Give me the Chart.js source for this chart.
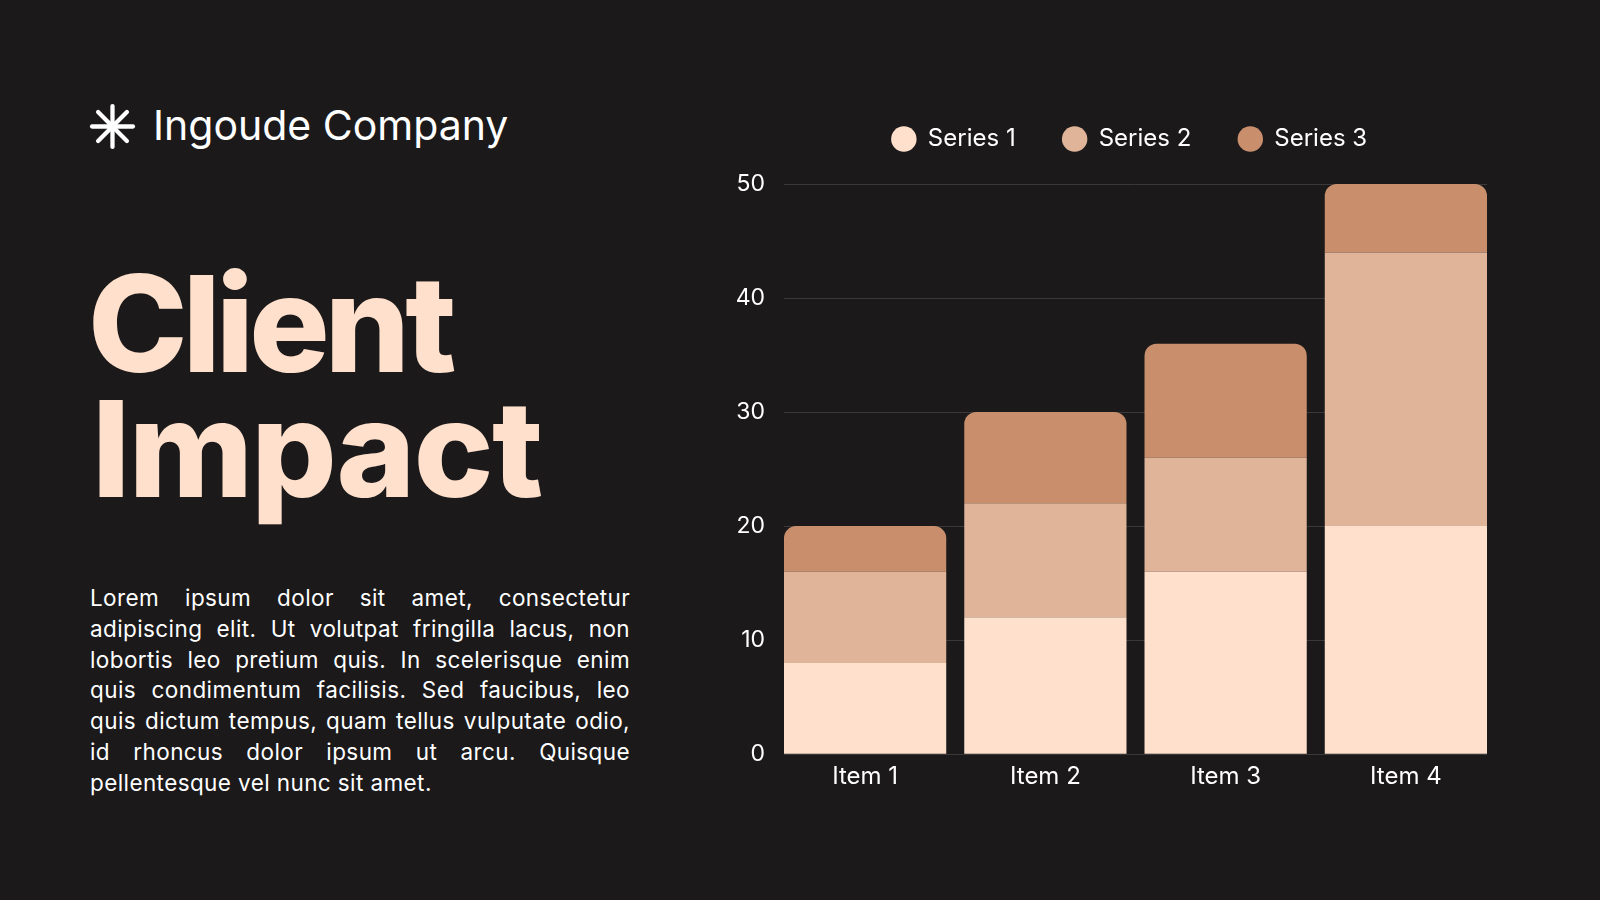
<!DOCTYPE html>
<html>
<head>
<meta charset="utf-8">
<title>Client Impact</title>
<script src="https://cdn.jsdelivr.net/npm/chart.js@4.4.1/dist/chart.umd.min.js"></script>
<style>
  html, body { margin: 0; padding: 0; }
  body { width: 1600px; height: 900px; position: relative; overflow: hidden; background: #1b191a; color: #fff; font-family: Inter, "Noto Sans", sans-serif; }
  #mark { position: absolute; left: 89px; top: 103px; width: 47px; height: 47px; }
  #brand { position: absolute; left: 153px; top: 105px; font-size: 41px; line-height: 1; white-space: nowrap; }
  #title { position: absolute; left: 88px; top: 261px; margin: 0; font-size: 134px; line-height: 125px; font-weight: 800; color: #fee0cc; }
  #title .w1 { letter-spacing: -4.8px; }
  #title .w2 { letter-spacing: -1.6px; padding-left: 4px; }
  #blurb { position: absolute; left: 90px; top: 583px; width: 540px; font-size: 22.5px; line-height: 30.8px; letter-spacing: 0.4px; }
  #blurb div { text-align: justify; text-align-last: justify; white-space: nowrap; }
  #blurb div:last-child { text-align-last: left; }
  #chartWrap { position: absolute; left: 720px; top: 80px; width: 820px; height: 740px; }
</style>
</head>
<body>
<svg id="mark" viewBox="0 0 46 46">
  <g stroke="#fff" stroke-width="4.2" stroke-linecap="round">
    <line x1="23" y1="3" x2="23" y2="43"/>
    <line x1="3" y1="23" x2="43" y2="23"/>
    <line x1="8.9" y1="8.9" x2="37.1" y2="37.1"/>
    <line x1="37.1" y1="8.9" x2="8.9" y2="37.1"/>
  </g>
</svg>
<div id="brand">Ingoude Company</div>
<h1 id="title"><span class="w1">Client</span><br><span class="w2">Impact</span></h1>
<div id="blurb">
  <div>Lorem ipsum dolor sit amet, consectetur</div>
  <div>adipiscing elit. Ut volutpat fringilla lacus, non</div>
  <div>lobortis leo pretium quis. In scelerisque enim</div>
  <div>quis condimentum facilisis. Sed faucibus, leo</div>
  <div>quis dictum tempus, quam tellus vulputate odio,</div>
  <div>id rhoncus dolor ipsum ut arcu. Quisque</div>
  <div>pellentesque vel nunc sit amet.</div>
</div>
<div id="chartWrap"><canvas id="myChart"></canvas></div>
<script>
const items = ['Item 1', 'Item 2', 'Item 3', 'Item 4'];
const seriesNames = ['Series 1', 'Series 2', 'Series 3'];
const series1 = [8, 12, 16, 20];
const series2 = [8, 10, 10, 24];
const series3 = [4, 8, 10, 6];
const yTicks = [0, 10, 20, 30, 40, 50];

const seriesColors = ['#fee0cc', '#e0b499', '#c98f6d'];
const font = 'Inter, "Noto Sans", sans-serif';

// legend sits a bit higher above the plot than chart.js puts it,
// and a touch left of the plot centre
const legendPlace = {
    id: 'legendPlace',
    afterInit(chart) {
        const fit = chart.legend.fit;
        chart.legend.fit = function () {
            fit.call(this);
            this.height += 23;
        };
    },
    afterLayout(chart) {
        chart.legend.left -= 6;
        chart.legend.right -= 6;
    }
};

function makeDataset(i, values) {
    return {
        label: seriesNames[i],
        data: values,
        backgroundColor: seriesColors[i],
        borderWidth: 0,
        borderRadius: i == 2 ? 12 : 0,
        borderSkipped: 'start',
        barPercentage: 0.9,
        categoryPercentage: 1
    };
}

function createChart() {
    const cfg = {
        type: 'bar',
        data: {
            labels: items,
            datasets: [makeDataset(0, series1), makeDataset(1, series2), makeDataset(2, series3)]
        },
        options: {
            responsive: true,
            maintainAspectRatio: false,
            animation: false,
            layout: {
                padding: { top: 0, right: 53, bottom: 21, left: 0 }
            },
            plugins: {
                legend: {
                    position: 'top',
                    fullSize: false,
                    labels: {
                        usePointStyle: true,
                        pointStyle: 'circle',
                        boxWidth: 24,
                        boxHeight: 18,
                        padding: 47,
                        color: '#ffffff',
                        font: { family: font, size: 24 }
                    }
                },
                tooltip: { enabled: false }
            },
            scales: {
                x: {
                    stacked: true,
                    // bars run flush to both ends of the grid
                    afterBuildTicks: function (scale) {
                        scale._startValue = -0.45;
                        scale._valueRange = 3.9;
                    },
                    grid: { display: false, drawTicks: false },
                    border: { display: false },
                    ticks: {
                        color: '#ffffff',
                        padding: 8,
                        font: { family: font, size: 24 }
                    }
                },
                y: {
                    stacked: true,
                    min: yTicks[0],
                    max: yTicks[yTicks.length - 1],
                    afterFit: function (scale) {
                        scale.width = 64;
                    },
                    grid: { color: '#3a3838', lineWidth: 1, drawTicks: false },
                    border: { display: false },
                    ticks: {
                        stepSize: yTicks[1] - yTicks[0],
                        color: '#ffffff',
                        padding: 19,
                        font: { family: font, size: 23 }
                    }
                }
            }
        },
        plugins: [legendPlace]
    };
    return new Chart(document.getElementById('myChart'), cfg);
}

const chart = createChart();
</script>
</body>
</html>
